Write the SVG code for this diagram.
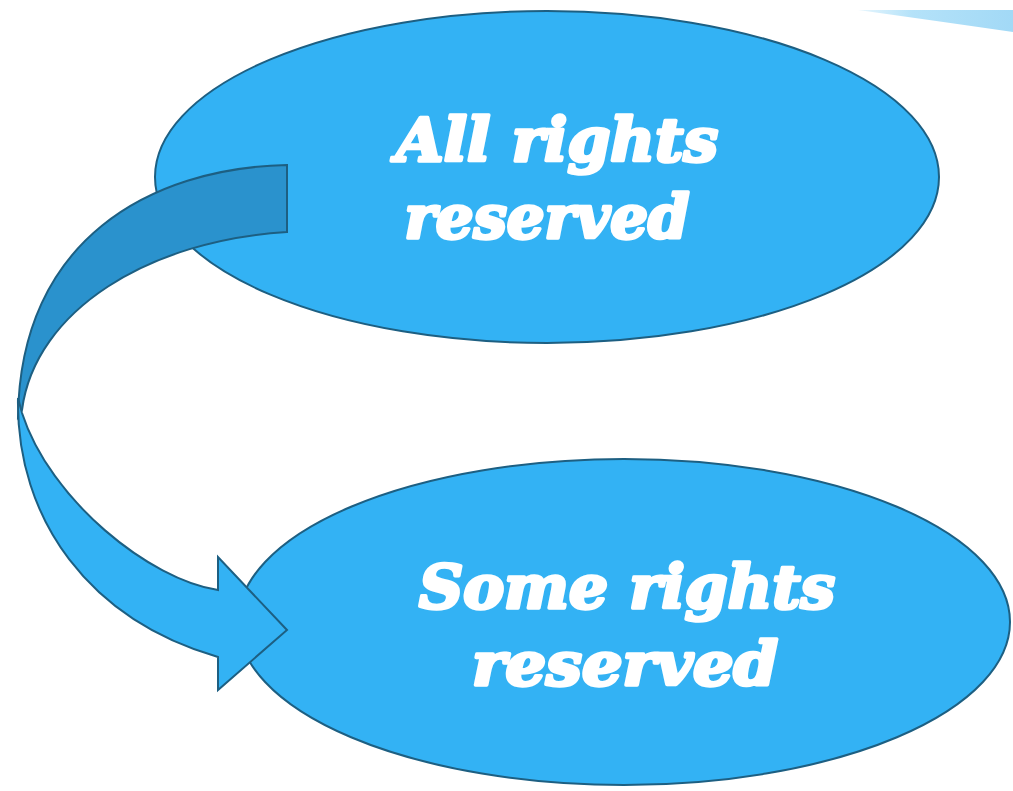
<svg xmlns="http://www.w3.org/2000/svg" width="1013" height="791" viewBox="0 0 1013 791">
  <style>
    .node { fill: #33b2f4; stroke: #1d5f82; stroke-width: 2; }
    .lbl { font-family: "DejaVu Serif", "Liberation Serif", serif; font-weight: bold; font-style: italic; fill: #ffffff; stroke: #ffffff; stroke-width: 3.5; stroke-linejoin: round; text-anchor: middle; }
    .arrow-back { fill: #2a92cd; stroke: #1d5f82; stroke-width: 2; stroke-linejoin: miter; }
    .arrow-front { fill: #33b2f4; stroke: #1d5f82; stroke-width: 2; stroke-linejoin: miter; }
  </style>
  <defs>
    <linearGradient id="sliver" x1="0" y1="0" x2="1" y2="0">
      <stop offset="0" stop-color="#e8f6fd"/>
      <stop offset="0.35" stop-color="#b4e2f9"/>
      <stop offset="1" stop-color="#a2d9f6"/>
    </linearGradient>
  </defs>
  <rect width="1013" height="791" fill="#ffffff"/>
  <path d="M858,10 L1013,10 L1013,32 Q930,20 858,10 Z" fill="url(#sliver)"/>

  <g id="node-all-rights">
    <ellipse class="node" cx="547" cy="177" rx="392" ry="166"/>
    <text class="lbl" x="557" y="161" font-size="60" textLength="322" lengthAdjust="spacingAndGlyphs">All rights</text>
    <text class="lbl" x="547" y="238" font-size="60" textLength="285" lengthAdjust="spacingAndGlyphs">reserved</text>
  </g>

  <g id="node-some-rights">
    <ellipse class="node" cx="624" cy="622" rx="386" ry="163"/>
    <text class="lbl" x="627" y="608" font-size="60" textLength="416" lengthAdjust="spacingAndGlyphs">Some rights</text>
    <text class="lbl" x="625" y="685" font-size="60" textLength="306" lengthAdjust="spacingAndGlyphs">reserved</text>
  </g>

  <g id="connectors">
    <path class="arrow-back" d="M287,165 C150,168 20,240 18,417 L22,410 C35,310 150,240 287,232 Z"/>
    <path class="arrow-front" d="M18,398 C16,520 90,620 218,657 L218,690 L287,630 L218,557 L218,590 C150,580 50,500 22,413 Z"/>
  </g>
</svg>
